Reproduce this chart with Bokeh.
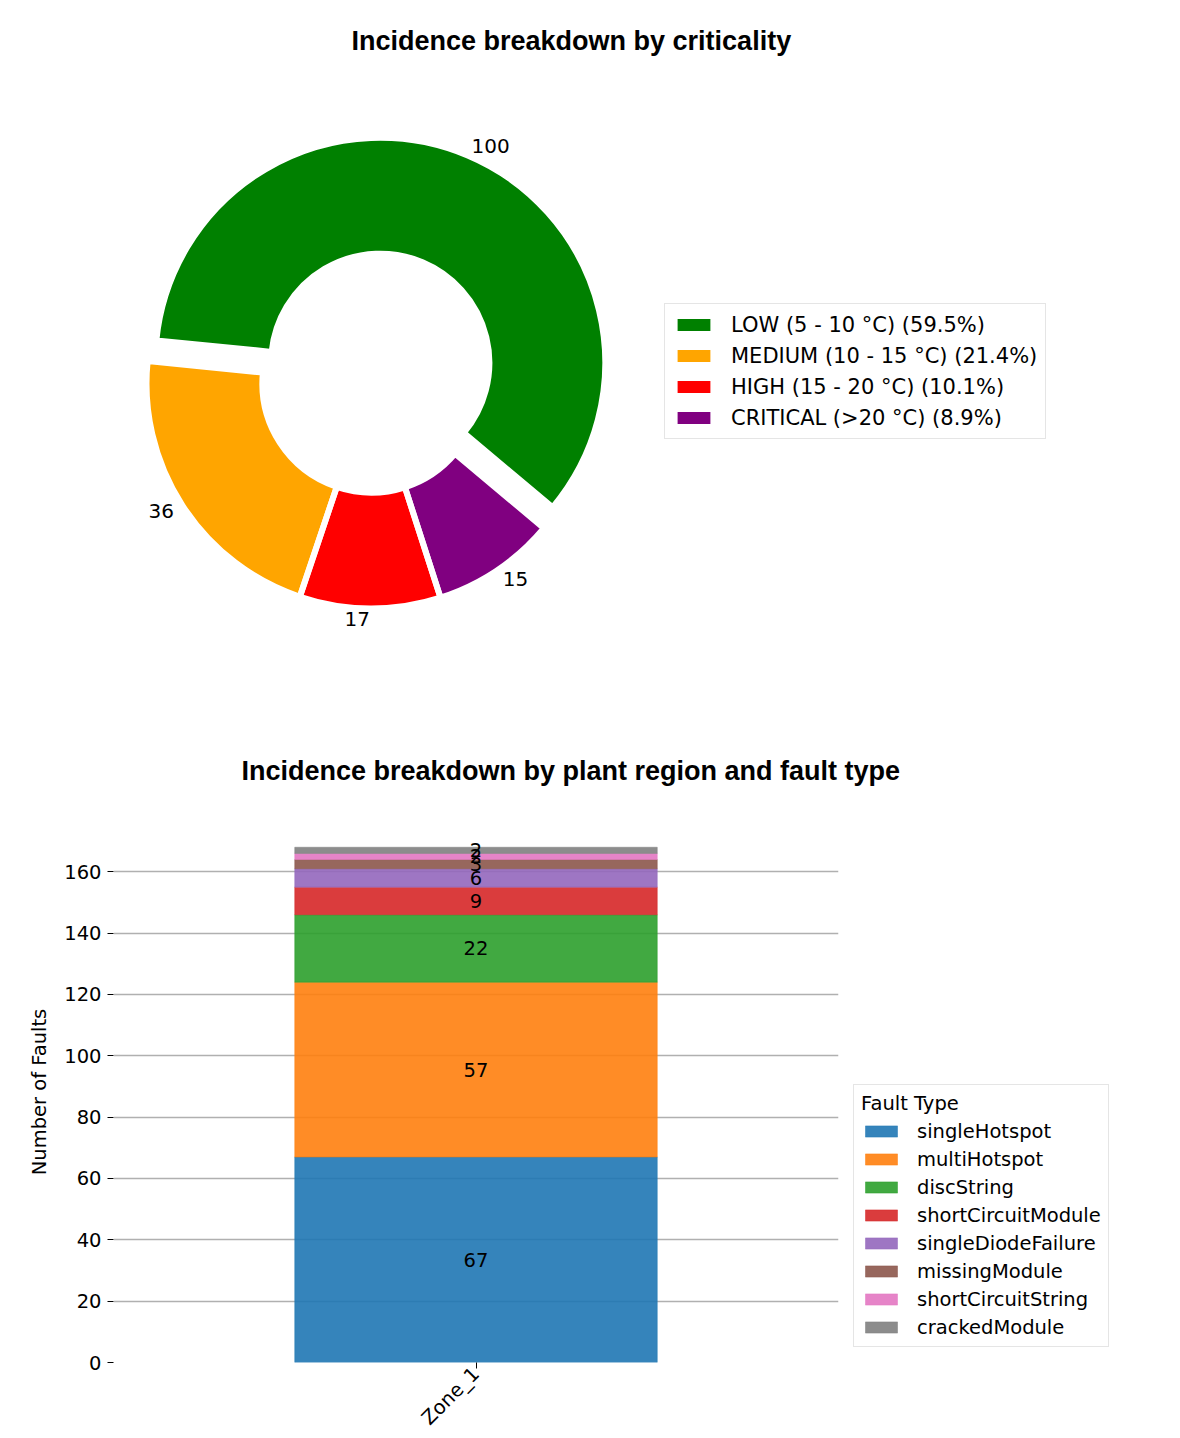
import numpy as np
from bokeh.plotting import figure
from bokeh.models import (ColumnDataSource, Range1d, FactorRange, Legend, LegendItem,
                          Title, SingleIntervalTicker)
from bokeh.layouts import column
from bokeh.embed import file_html
from bokeh.resources import INLINE
from bokeh.core.properties import value

# ---------------- data ----------------
crit_levels = ["LOW (5 - 10 \u00b0C)", "MEDIUM (10 - 15 \u00b0C)", "HIGH (15 - 20 \u00b0C)", "CRITICAL (>20 \u00b0C)"]
crit_counts = [100, 36, 17, 15]
crit_colors = ["green", "orange", "red", "purple"]
crit_explode = [0.1, 0.0, 0.0, 0.0]

zones = ["Zone_1"]
fault_types = ["singleHotspot", "multiHotspot", "discString", "shortCircuitModule",
               "singleDiodeFailure", "missingModule", "shortCircuitString", "crackedModule"]
fault_counts = [67, 57, 22, 9, 6, 3, 2, 2]
fault_colors = ["#1f77b4", "#ff7f0e", "#2ca02c", "#d62728", "#9467bd", "#8c564b", "#e377c2", "#7f7f7f"]

TITLE1 = "Incidence breakdown by criticality"
TITLE2 = "Incidence breakdown by plant region and fault type"
YLABEL = "Number of Faults"
LEGEND2_TITLE = "Fault Type"

# ---------------- styling ----------------
DV = "DejaVu Sans"
TF = "Liberation Sans"
FS = "19.5px"
W = 1170

# ---------------- pie (donut) ----------------
S = 225.0            # px per unit radius
H1 = 700
top1 = 60
frame_h1 = H1 - top1
cx_px, cy_px = 371.0, 383.0 - top1   # pie centre within frame (from left, from top)

p1 = figure(width=W, height=H1, output_backend="svg", toolbar_location=None,
            x_range=Range1d(-cx_px / S, (W - cx_px) / S),
            y_range=Range1d(-(frame_h1 - cy_px) / S, cy_px / S),
            min_border_left=0, min_border_right=0, min_border_bottom=0, min_border_top=top1)
p1.frame_align = False
p1.axis.visible = False
p1.grid.visible = False
p1.outline_line_color = None
p1.title = Title(text=TITLE1, align="left", offset=351, text_font=TF, text_font_size="27px",
                 text_font_style="bold", text_color="black")

counts = np.array(crit_counts, dtype=float)
frac = counts / counts.sum()
start_deg = -40.0 + 360.0 * np.concatenate([[0.0], np.cumsum(frac)[:-1]])
end_deg = start_deg + 360.0 * frac
mid = np.deg2rad((start_deg + end_deg) / 2)
expl = np.array(crit_explode)
cx = expl * np.cos(mid)
cy = expl * np.sin(mid)
pct = [f"{lvl} ({100 * f:.1f}%)" for lvl, f in zip(crit_levels, frac)]

pdata = dict(x=list(cx), y=list(cy), start=list(np.deg2rad(start_deg)), end=list(np.deg2rad(end_deg)),
             color=crit_colors, label=pct)
items = []
for i in range(len(crit_counts)):
    r = p1.annular_wedge(x="x", y="y", inner_radius=0.485, outer_radius=1.0,
                         start_angle="start", end_angle="end", fill_color="color",
                         line_color=None, source=ColumnDataSource({k: [v[i]] for k, v in pdata.items()}))
    items.append(LegendItem(label=pct[i], renderers=[r]))
p1.annular_wedge(x="x", y="y", inner_radius=0.485, outer_radius=1.0, start_angle="start",
                 end_angle="end", fill_color=None, line_color="white", line_width=6,
                 source=ColumnDataSource(pdata))

ld = 1.045
lab1 = ColumnDataSource(dict(x=cx + ld * np.cos(mid), y=cy + ld * np.sin(mid),
                             text=[str(c) for c in crit_counts],
                             align=["right" if c < 0 else "left" for c in np.cos(mid)]))
p1.text(x="x", y="y", text="text", text_align="align", text_baseline="middle",
        text_font=value(DV), text_font_size="20px", text_color="black", source=lab1)

leg1 = Legend(items=items, location=(664, H1 - 439), padding=8, spacing=6,
              label_height=25, glyph_height=15, glyph_width=41, label_standoff=17,
              label_text_font=DV, label_text_font_size="21px", label_text_color="black",
              border_line_color="#cccccc", border_line_width=1, background_fill_alpha=0.8, margin=0)
p1.add_layout(leg1, "center")

# ---------------- stacked bar ----------------
f_top, f_bot = 821, 1362          # page y of the plot frame
fl, fw = 113, 725
ymax = sum(fault_counts) * 1.05

p2 = figure(frame_width=fw, frame_height=f_bot - f_top, output_backend="svg", toolbar_location=None,
            x_range=FactorRange(factors=zones, range_padding=0), y_range=Range1d(0, ymax),
            min_border_left=fl, min_border_right=0, min_border_top=f_top - H1, min_border_bottom=0)
p2.frame_align = False
p2.outline_line_color = None
p2.title = Title(text=TITLE2, align="left", offset=128, standoff=72, text_font=TF,
                 text_font_size="27px", text_font_style="bold", text_color="black")

bsrc = ColumnDataSource(dict(zone=zones, **{ft: [c] for ft, c in zip(fault_types, fault_counts)}))
bars = p2.vbar_stack(fault_types, x="zone", width=0.5, source=bsrc, fill_color=fault_colors,
                     line_color=fault_colors, fill_alpha=0.9, line_alpha=0.5)

fc = np.array(fault_counts, dtype=float)
mids = np.cumsum(fc) - fc / 2
lsrc = ColumnDataSource(dict(x=[zones[0]] * len(fc), y=mids, text=[str(c) for c in fault_counts]))
p2.text(x="x", y="y", text="text", text_align="center", text_baseline="middle",
        text_font=value(DV), text_font_size=FS, text_color="black", source=lsrc)

p2.xgrid.visible = False
p2.ygrid.grid_line_color = "#b0b0b0"
p2.ygrid.grid_line_width = 1.3
p2.yaxis.ticker = SingleIntervalTicker(interval=20, num_minor_ticks=0)
for ax in (p2.xaxis[0], p2.yaxis[0]):
    ax.axis_line_color = None
    ax.major_tick_in = 0
    ax.major_tick_out = 6
    ax.major_tick_line_color = "black"
    ax.minor_tick_line_color = None
    ax.major_label_text_font = DV
    ax.major_label_text_font_size = FS
    ax.major_label_text_color = "black"
    ax.major_label_standoff = 6
p2.xaxis.major_label_orientation = np.pi / 4
p2.xaxis.major_label_standoff = 2
p2.yaxis.axis_label = YLABEL
p2.yaxis.axis_label_text_font = DV
p2.yaxis.axis_label_text_font_size = FS
p2.yaxis.axis_label_text_font_style = "normal"
p2.yaxis.axis_label_text_color = "black"
p2.yaxis.axis_label_standoff = 10

leg2 = Legend(items=[LegendItem(label=ft, renderers=[b]) for ft, b in zip(fault_types, bars)],
              location="bottom_left", title=LEGEND2_TITLE, title_text_font=DV,
              title_text_font_size=FS, title_text_font_style="normal", title_text_color="black",
              title_standoff=4, padding=7, spacing=4, label_height=24, glyph_height=14,
              glyph_width=40, label_standoff=16, label_text_font=DV, label_text_font_size=FS,
              label_text_color="black", border_line_color="#cccccc", background_fill_alpha=0.8,
              margin=15)
p2.add_layout(leg2, "right")

layout = column(p1, p2)
open("out.html", "w").write(file_html(layout, INLINE))
